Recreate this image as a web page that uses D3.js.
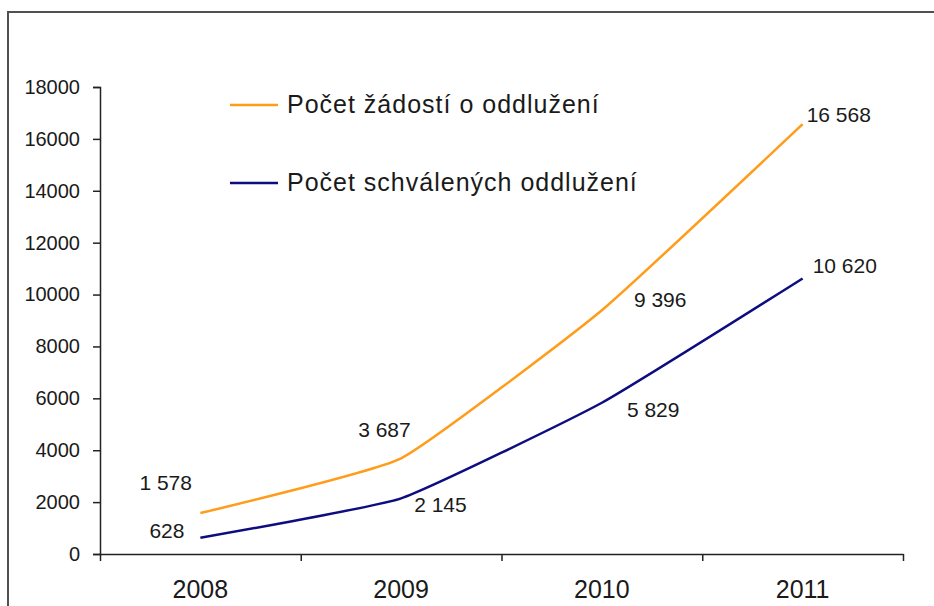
<!DOCTYPE html>
<html>
<head>
<meta charset="utf-8">
<script src="https://cdn.jsdelivr.net/npm/d3@7"></script>
<style>
  body { margin: 0; background: #fff; }
  svg { display: block; font-family: "Liberation Sans", Arial, sans-serif; }
</style>
</head>
<body>
<svg id="chart" width="934" height="606"></svg>
<script>
// data
const years = ['2008', '2009', '2010', '2011'];
const zadosti = [1578, 3687, 9396, 16568];
const schvaleno = [628, 2145, 5829, 10620];
const yTicks = [0, 2000, 4000, 6000, 8000, 10000, 12000, 14000, 16000, 18000];
const seriesNames = ['Počet žádostí o oddlužení', 'Počet schválených oddlužení'];

// label nudges (hand-placed in the original)
const nudgeZadosti = [[-61, -23], [-43, -21], [32, -3], [4, -2]];
const nudgeSchvaleno = [[-51, 0], [13, 14], [25, 14], [10, -5]];

const svg = d3.select('#chart');
const plotLeft = 100, plotRight = 903, plotTop = 87, plotBottom = 554;

// frame
svg.append('path')
    .attr('d', `M8,606 V12 H934`)
    .attr('fill', 'none')
    .attr('stroke', '#505050')
    .attr('stroke-width', 2);

const x = d3.scaleBand().domain(years).range([plotLeft, plotRight]);
const xIdx = d3.scaleLinear().domain([0, years.length]).range([plotLeft, plotRight]);
const y = d3.scaleLinear().domain([0, 18000]).range([plotBottom, plotTop]);

// y axis
const yAxis = svg.append('g')
    .attr('transform', `translate(${plotLeft},0)`)
    .call(d3.axisLeft(y).tickValues(yTicks).tickSizeInner(7).tickSizeOuter(7).tickPadding(13).tickFormat(d3.format('d')));
yAxis.select('.domain').attr('stroke', '#222').attr('stroke-width', 1.5);
yAxis.selectAll('.tick line').attr('stroke', '#222').attr('stroke-width', 1.5);
yAxis.selectAll('text').attr('font-size', 20).attr('fill', '#1a1a1a').attr('font-family', null);

// x axis (ticks on category boundaries)
const xAxis = svg.append('g')
    .attr('transform', `translate(0,${plotBottom})`)
    .call(d3.axisBottom(xIdx).tickValues(d3.range(years.length + 1)).tickSizeInner(7).tickSizeOuter(0).tickFormat(''));
xAxis.select('.domain').attr('stroke', '#222').attr('stroke-width', 1.5);
xAxis.selectAll('.tick line').attr('stroke', '#222').attr('stroke-width', 1.5);

svg.append('g').selectAll('text')
    .data(years)
    .enter()
    .append('text')
    .attr('x', d => x(d) + x.bandwidth() / 2)
    .attr('y', 598)
    .attr('text-anchor', 'middle')
    .attr('font-size', 25)
    .attr('fill', '#1a1a1a')
    .text(d => d);

const line = d3.line()
    .x((d, i) => x(years[i]) + x.bandwidth() / 2)
    .y(d => y(d))
    .curve(d3.curveCardinal.tension(0.6));

const series = [
    { values: zadosti, color: '#ff9c1a', nudge: nudgeZadosti },
    { values: schvaleno, color: '#0d0d80', nudge: nudgeSchvaleno }
];

const fmt = v => d3.format(',')(v).replace(',', ' ');

series.forEach(s => {
    svg.append('path')
        .datum(s.values)
        .attr('d', line)
        .attr('fill', 'none')
        .attr('stroke', s.color)
        .attr('stroke-width', 2.5);

    svg.append('g').selectAll('text')
        .data(s.values)
        .enter()
        .append('text')
        .attr('x', (d, i) => x(years[i]) + x.bandwidth() / 2 + s.nudge[i][0])
        .attr('y', (d, i) => y(d) + s.nudge[i][1])
        .attr('font-size', 21)
        .attr('fill', '#1a1a1a')
        .text(d => fmt(d));
});

// legend
const legend = svg.append('g');
series.forEach((s, i) => {
    const ly = 105 + i * 78;
    legend.append('line')
        .attr('x1', 230).attr('x2', 278)
        .attr('y1', ly).attr('y2', ly)
        .attr('stroke', s.color)
        .attr('stroke-width', 2.5);
    legend.append('text')
        .attr('x', 287)
        .attr('y', ly + 8)
        .attr('font-size', 25)
        .attr('letter-spacing', 1)
        .attr('fill', '#1a1a1a')
        .text(seriesNames[i]);
});
</script>
</body>
</html>
